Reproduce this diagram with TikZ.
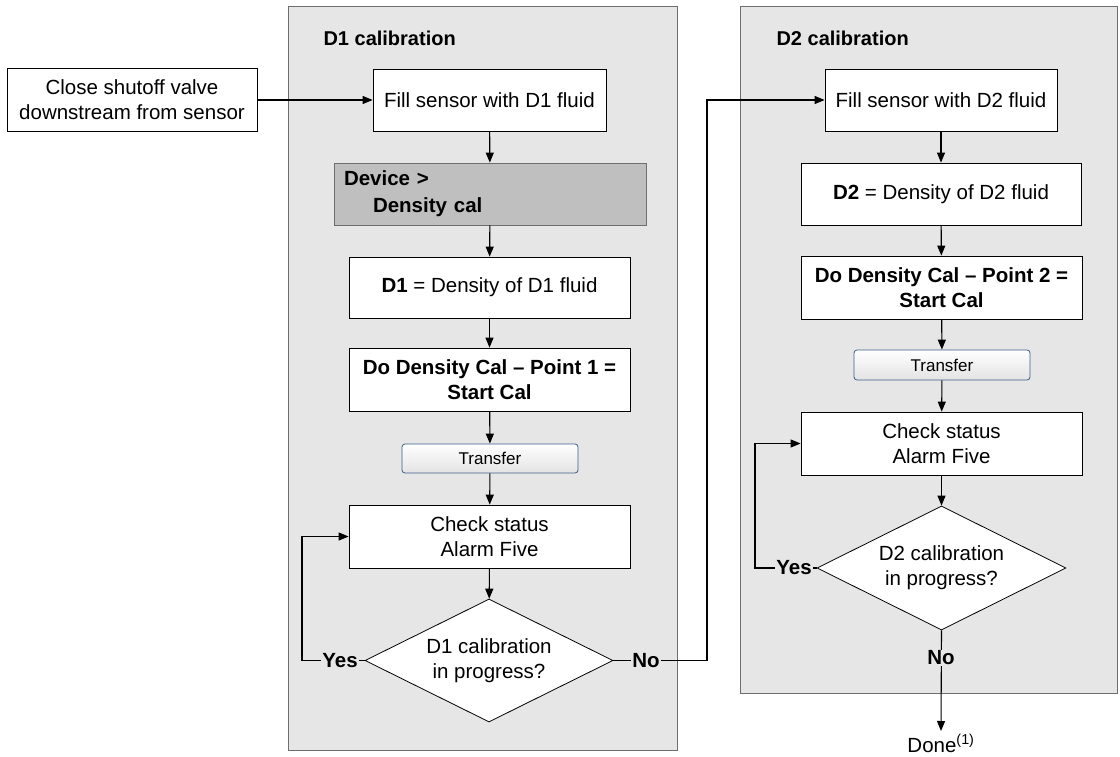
\documentclass[tikz,border=0pt]{standalone}
\usepackage{fontspec}
\setmainfont{Liberation Sans}
\usetikzlibrary{shapes.geometric,arrows.meta,positioning}
\definecolor{panelgray}{HTML}{E6E6E6}
\definecolor{panelline}{HTML}{6E6E6E}
\definecolor{devgray}{HTML}{BFBFBF}
\definecolor{btnblue}{HTML}{3D5F8C}
\tikzset{
  panel/.style={draw=panelline, fill=panelgray, line width=1pt},
  procbox/.style={draw=black, fill=white, line width=0.8pt, inner sep=0pt, align=center, font=\fontsize{20.5}{25}\selectfont},
  devbox/.style={draw=panelline, fill=devgray, line width=0.8pt, inner sep=0pt, align=left, font=\fontsize{20.5}{27}\selectfont\bfseries},
  btn/.style={draw=btnblue, rounded corners=3pt, top color=white, bottom color=gray!22, line width=0.8pt, inner sep=0pt, font=\fontsize{17}{19}\selectfont},
  decision/.style={diamond, draw=black, fill=white, line width=0.8pt, inner sep=0pt, aspect=2.02, align=center, font=\fontsize{20.5}{25}\selectfont},
  lab/.style={fill=panelgray, inner sep=1pt, font=\fontsize{20.5}{24}\selectfont\bfseries},
  title/.style={anchor=west, font=\fontsize{20}{24}\selectfont\bfseries},
  arr/.style={-{Triangle[length=10pt,width=8pt]}, line width=1.1pt},
  ln/.style={line width=1.1pt}
}
\begin{document}
\begin{tikzpicture}[x=1pt,y=-1pt]
\useasboundingbox (0,0) rectangle (1120,757);
% panels
\draw[panel] (288,7) rectangle (677,750);
\draw[panel] (740,7) rectangle (1117,693);
\node[title] (t1) at (320,38) {D1 calibration};
\node[title] (t2) at (773,38) {D2 calibration};
% left column
\node[procbox, minimum width=250, minimum height=63] (close) at (132,100) {Close shutoff valve\\downstream from sensor};
\node[procbox, minimum width=233, minimum height=62] (fill1) at (489.5,100) {Fill sensor with D1 fluid};
\node[devbox, minimum width=312, minimum height=62, text width=292] (dev) at (490,194) {Device >\\\hspace*{29pt}Density cal};
\node[procbox, minimum width=281, minimum height=61] (d1) at (489.5,287.5) {\textbf{D1} = Density of D1 fluid};
\node[procbox, minimum width=281, minimum height=63, font=\fontsize{20.5}{25}\selectfont\bfseries] (do1) at (489.5,379.5) {Do Density Cal -- Point 1 =\\Start Cal};
\node[btn, minimum width=176, minimum height=29] (tr1) at (490,458.5) {Transfer};
\node[procbox, minimum width=281, minimum height=63] (chk1) at (489.5,536.5) {Check status\\Alarm Five};
\node[decision, minimum width=248, minimum height=123] (dec1) at (489,660.5) {D1 calibration\\in progress?};
% right column
\node[procbox, minimum width=232, minimum height=62] (fill2) at (941,100) {Fill sensor with D2 fluid};
\node[procbox, minimum width=280, minimum height=62] (d2) at (941,194) {\textbf{D2} = Density of D2 fluid};
\node[procbox, minimum width=281, minimum height=63, font=\fontsize{20.5}{25}\selectfont\bfseries] (do2) at (941.5,287.5) {Do Density Cal -- Point 2 =\\Start Cal};
\node[btn, minimum width=176, minimum height=30] (tr2) at (942,365) {Transfer};
\node[procbox, minimum width=281, minimum height=63] (chk2) at (941.5,443.5) {Check status\\Alarm Five};
\node[decision, minimum width=249, minimum height=124] (dec2) at (941.5,568) {D2 calibration\\in progress?};
\node[font=\fontsize{20.5}{24}\selectfont, anchor=north] (done) at (941,731) {Done\textsuperscript{(1)}};
% connectors
\draw[arr] (close.east) -- (fill1.west);
\draw[arr] (fill1) -- (dev);
\draw[arr] (dev) -- (d1);
\draw[arr] (d1) -- (do1);
\draw[arr] (do1) -- (tr1);
\draw[arr] (tr1) -- (chk1);
\draw[arr] (chk1) -- (dec1);
\coordinate (y1) at (302,660.5);
\draw[arr] (dec1.west) -- (y1) |- (chk1.west);
\node[lab] (yes1) at (340,660.5) {Yes};
\coordinate (n1) at (707,660.5);
\coordinate (n1t) at (707,100);
\draw[arr] (dec1.east) -- (n1) -- (n1t) -- (fill2.west);
\node[lab] (no1) at (646,660.5) {No};
\draw[arr] (fill2) -- (d2);
\draw[arr] (d2) -- (do2);
\draw[arr] (do2) -- (tr2);
\draw[arr] (tr2) -- (chk2);
\draw[arr] (chk2) -- (dec2);
\coordinate (y2) at (755,568);
\draw[arr] (dec2.west) -- (y2) |- (chk2.west);
\node[lab] (yes2) at (794,568) {Yes};
\draw[arr] (dec2.south) -- (done.north);
\node[lab] (no2) at (941,658) {No};
\end{tikzpicture}
\end{document}
